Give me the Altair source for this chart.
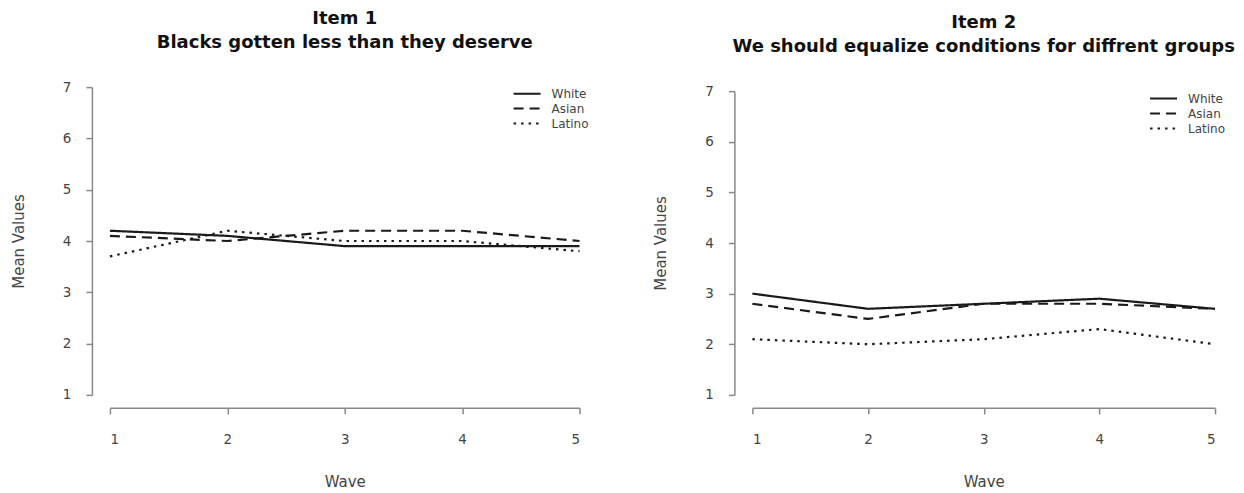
import altair as alt
import pandas as pd

# ---- data ----
waves = [1, 2, 3, 4, 5]
groups = ["White", "Asian", "Latino"]
y_ticks = [1, 2, 3, 4, 5, 6, 7]

item1_white = [4.2, 4.1, 3.9, 3.9, 3.9]
item1_asian = [4.1, 4.0, 4.2, 4.2, 4.0]
item1_latino = [3.7, 4.2, 4.0, 4.0, 3.8]

item2_white = [3.0, 2.7, 2.8, 2.9, 2.7]
item2_asian = [2.8, 2.5, 2.8, 2.8, 2.7]
item2_latino = [2.1, 2.0, 2.1, 2.3, 2.0]

title1 = ["Item 1", "Blacks gotten less than they deserve"]
title2 = ["Item 2", "We should equalize conditions for diffrent groups"]


def frame(white, asian, latino):
    rows = []
    for g, vals in zip(groups, [white, asian, latino]):
        for w, v in zip(waves, vals):
            rows.append({"Wave": w, "Group": g, "Mean": v})
    return pd.DataFrame(rows)


FONT = "DejaVu Sans"
LINE = "#1a1a1a"
dash_scale = alt.Scale(domain=groups, range=[[1, 0], [10, 6], [2.5, 5]])


def panel(df, title_lines, width, height, yrange, legend_x, legend_y, title_dy):
    return (
        alt.Chart(df)
        .mark_line(color=LINE, strokeWidth=2.2)
        .encode(
            x=alt.X(
                "Wave:Q",
                scale=alt.Scale(domain=[1, 5], nice=False, zero=False),
                axis=alt.Axis(values=waves, format="d", title="Wave", offset=13,
                              labelPadding=19, titlePadding=28),
            ),
            y=alt.Y(
                "Mean:Q",
                scale=alt.Scale(domain=[1, 7], range=yrange, nice=False, zero=False),
                axis=alt.Axis(values=y_ticks, format="d", title="Mean Values", offset=18,
                              labelPadding=15, titlePadding=36),
            ),
            strokeDash=alt.StrokeDash(
                "Group:N",
                scale=dash_scale,
                legend=alt.Legend(
                    orient="none", legendX=legend_x, legendY=legend_y, title=None,
                    symbolType="stroke", symbolSize=729, symbolStrokeWidth=2,
                    symbolStrokeColor=LINE, labelFontSize=12, labelFont=FONT,
                    labelColor="#444", labelOffset=10, rowPadding=0, clipHeight=15,
                    padding=0,
                ),
            ),
        )
        .properties(
            width=width,
            height=height,
            title=alt.Title(title_lines, fontSize=18, font=FONT, fontWeight="bold",
                            color="#111", lineHeight=24, anchor="middle", offset=28,
                            dy=title_dy),
        )
    )


left = panel(frame(item1_white, item1_asian, item1_latino), title1, 470, 308,
             [308, 0], 403, -1, 0)
right = panel(frame(item2_white, item2_asian, item2_latino), title2, 463, 308,
              [308, 4], 397, 4, 0)

chart = (
    alt.hconcat(left, right, spacing=64)
    .resolve_legend(strokeDash="independent")
    .resolve_scale(y="independent", x="independent")
    .properties(padding={"left": 3, "top": 2, "right": 0, "bottom": 0})
    .configure_view(stroke=None)
    .configure_axis(
        grid=False, domainColor="#888", domainWidth=1.5, tickColor="#888", tickWidth=1.5,
        tickSize=6, labelFont=FONT, labelFontSize=13.5, labelColor="#444",
        titleFont=FONT, titleFontSize=15, titleFontWeight="normal", titleColor="#444",
    )
    .configure_axisY(labelAngle=0)
)

chart.save("out.html", embed_options={"renderer": "svg", "actions": False})
